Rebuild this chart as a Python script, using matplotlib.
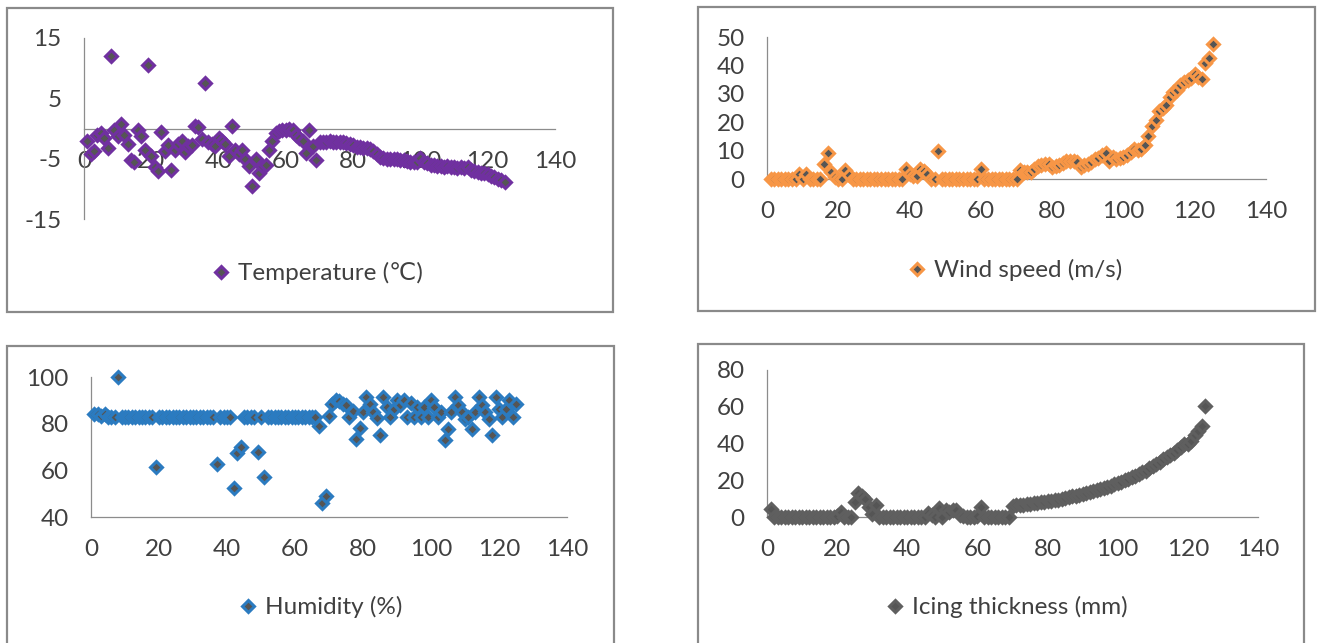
import matplotlib
matplotlib.use("Agg")
import matplotlib.pyplot as plt
from matplotlib.patches import Rectangle
from matplotlib.lines import Line2D

plt.rcParams['font.family'] = ['Lato', 'DejaVu Sans']

# ---------------- data (x = sample index 1..125) ----------------
sample_index = list(range(1, 126))

temperature = [
    -2.0, -4.2, -3.8, -1.0, -0.8, -1.5, -3.2, 12.0, -0.2, -1.2,
    0.8, -1.0, -2.5, -5.3, -5.6, -0.3, -1.2, -3.5, 10.5, -4.5,
    -6.3, -7.0, -0.5, -3.7, -2.8, -6.9, -3.5, -2.6, -2.0, -3.9,
    -2.9, -2.8, 0.4, 0.2, -1.8, 7.6, -2.3, -2.6, -2.9, -1.5,
    -2.0, -2.6, -4.5, 0.4, -3.5, -4.3, -3.5, -5.1, -6.2, -9.6,
    -5.1, -7.4, -6.2, -6.0, -3.5, -2.0, -0.7, -0.4, -0.2, -0.3,
    -0.1, -0.3, -1.0, -1.5, -2.0, -4.0, -0.3, -2.9, -5.3, -2.3,
    -2.2, -2.2, -2.1, -2.2, -2.2, -2.3, -2.2, -2.4, -2.6, -2.8,
    -3.0, -3.1, -3.2, -3.3, -3.4, -3.8, -4.3, -4.7, -4.9, -5.0,
    -5.0, -5.1, -5.1, -5.2, -5.3, -5.4, -5.5, -5.6, -5.5, -4.9,
    -5.6, -5.8, -6.0, -6.1, -6.2, -6.2, -6.3, -6.2, -6.3, -6.4,
    -6.5, -6.4, -6.6, -6.3, -6.8, -7.0, -7.2, -7.3, -7.4, -7.6,
    -7.8, -8.0, -8.3, -8.6, -8.9,
]

wind_speed = [
    0, 0, 0, 0, 0, 0, 0, 0, 1.8, 0,
    1.8, 0, 0, 0, 0, 5.4, 9.3, 2.4, 0.6, 0,
    0, 3.0, 1.5, 0, 0, 0, 0, 0, 0, 0,
    0, 0, 0, 0, 0, 0, 0, 0, 3.6, 1.8,
    1.2, 1.2, 3.6, 2.8, 1.8, 0, 0, 9.8, 0, 0,
    0, 0, 0, 0, 0, 0, 0, 0, 0, 3.6,
    0, 0, 0, 0, 0, 0, 0, 0, 0, 0,
    3.3, 2.6, 2.4, 2.4, 3.6, 4.5, 5.0, 5.4, 5.4, 4.2,
    4.6, 4.8, 5.6, 6.3, 6.3, 6.2, 6.0, 4.2, 5.0, 5.4,
    6.0, 7.0, 7.5, 8.3, 9.0, 6.5, 7.7, 7.1, 7.4, 7.7,
    8.5, 9.5, 10.7, 10.1, 10.4, 11.9, 15.1, 18.5, 20.8, 23.8,
    25.0, 26.2, 29.0, 30.5, 31.5, 33.0, 34.0, 35.0, 35.7, 36.9,
    36.0, 35.3, 41.0, 42.5, 47.6,
]

humidity = [
    84, 84, 83.5, 84, 83, 83, 83, 100, 83, 83,
    83, 83, 83, 83, 83, 83, 83, 83, 61.6, 83,
    83, 83, 83, 83, 83, 83, 83, 83, 83, 83,
    83, 83, 83, 83, 83, 83, 62.9, 83, 83, 83,
    83, 52.5, 67.6, 69.8, 83, 83, 83, 83, 68, 83,
    57.3, 83, 83, 83, 83, 83, 83, 83, 83, 83,
    83, 83, 83, 83, 83, 83, 78.8, 46, 49, 83.4,
    88.5, 90.2, 89.6, 88.5, 88, 83, 85.6, 73.4, 78, 85,
    91.4, 88.5, 85, 82.4, 75, 91.6, 87, 82.7, 86.3, 90.2,
    87.8, 90, 83, 88.8, 83, 87, 82.7, 87, 83, 90.2,
    87, 83, 85, 73, 77.7, 85, 91.4, 87.8, 85, 82,
    83, 77.7, 85, 91.4, 87.8, 85, 82, 75, 91.6, 86.3,
    82.7, 86.3, 90.2, 83, 88.5,
]

icing_thickness = [
    4.5, 0, 0, 0, 0, 0, 0, 0, 0, 0,
    0, 0, 0, 0, 0, 0, 0, 0, 0, 0.5,
    2.8, 0, 0, 0, 8.4, 13.0, 11.5, 10.0, 5.6, 1.9,
    6.6, 0, 0, 0, 0, 0, 0, 0, 0, 0,
    0, 0, 0, 0, 0, 2.4, 1.0, 0, 4.7, 0,
    3.7, 2.5, 3.7, 3.7, 0.9, 0.5, 0, 0, 0, 0.5,
    5.6, 0, 0, 0, 0, 0, 0, 0, 0, 6.2,
    6.4, 6.5, 6.7, 6.9, 7.1, 7.4, 7.7, 8.0, 8.3, 8.6,
    8.9, 9.2, 9.5, 9.9, 10.3, 10.7, 11.2, 11.6, 12.1, 12.6,
    13.1, 13.6, 14.1, 14.6, 15.2, 15.8, 16.4, 17.0, 17.7, 18.4,
    19.1, 19.9, 20.7, 21.5, 22.4, 23.3, 24.3, 25.3, 26.4, 27.5,
    28.7, 30.0, 31.4, 32.8, 34.0, 35.0, 36.5, 38.2, 39.5, 40.0,
    41.5, 44.5, 47.0, 49.5, 60.5,
]

x_ticks = [0, 20, 40, 60, 80, 100, 120, 140]
series_labels = ['Temperature (\u2103)', 'Wind speed (m/s)', 'Humidity (%)', 'Icing thickness (mm)']
y_ticks = [[-15, -5, 5, 15], [0, 10, 20, 30, 40, 50], [40, 60, 80, 100], [0, 20, 40, 60, 80]]

# ---------------- layout ----------------
W, H = 1317, 643
fig = plt.figure(figsize=(W / 100, H / 100), dpi=100)
fig.patch.set_facecolor('white')

def fx(px):
    return px / W

def fy(py):
    return 1 - py / H

# plot-area boxes in pixels: (x at 0, x at 140, y top, y bottom)
areas = [(84, 555, 38, 219), (767, 1266, 37, 179), (91, 567, 377, 517), (767, 1258, 370, 517)]
frames = [(7, 613, 8, 312), (698, 1315, 7, 311), (7, 614, 346, 700), (698, 1304, 344, 700)]
legend_pos = [(318, 273), (1016, 270), (322, 607), (1008, 607)]
edge_colors = ['#7030A0', '#F79646', '#2B7BC0', '#5F5F5F']
face_colors = ['#555555', '#555555', '#555555', '#555555']
values = [temperature, wind_speed, humidity, icing_thickness]

text_color = '#404040'
axis_color = '#8C8C8C'
fs = 17.5
ms = 6.0
mew = 2.2

for i in range(4):
    x0, x1, yt, yb = areas[i]
    ax = fig.add_axes([fx(x0), fy(yb), (x1 - x0) / W, (yb - yt) / H])
    ax.set_xlim(0, 140)
    yt_vals = y_ticks[i]
    ax.set_ylim(yt_vals[0], yt_vals[-1])
    ax.set_facecolor('none')
    for s in ['top', 'right']:
        ax.spines[s].set_visible(False)
    for s in ['left', 'bottom']:
        ax.spines[s].set_color(axis_color)
        ax.spines[s].set_linewidth(0.9)
    if i == 0:
        ax.spines['bottom'].set_position(('data', 0))
    ax.set_xticks(x_ticks)
    ax.set_yticks(yt_vals)
    ax.set_yticklabels([str(v) for v in yt_vals])
    ax.tick_params(axis='both', length=0, labelsize=fs, labelcolor=text_color)
    ax.tick_params(axis='x', pad=16)
    ax.tick_params(axis='y', pad=16)
    ax.plot(sample_index, values[i], ls='none', marker='D', ms=ms,
            mfc=face_colors[i], mec=edge_colors[i], mew=mew, clip_on=False, zorder=3)

    fl, fr, ft, fb = frames[i]
    fig.patches.append(Rectangle((fx(fl), fy(fb)), (fr - fl) / W, (fb - ft) / H,
                                 transform=fig.transFigure, fill=False,
                                 edgecolor='#8A8A8A', lw=1.6, zorder=0))

    handle = Line2D([], [], ls='none', marker='D', ms=ms, mfc=face_colors[i],
                    mec=edge_colors[i], mew=mew)
    lx, ly = legend_pos[i]
    leg = fig.legend([handle], [series_labels[i]], loc='center',
                     bbox_to_anchor=(fx(lx), fy(ly)), frameon=False, fontsize=fs,
                     handlelength=0.6, handletextpad=0.4, borderaxespad=0)
    for t in leg.get_texts():
        t.set_color(text_color)

fig.savefig('out.png', dpi=100)
